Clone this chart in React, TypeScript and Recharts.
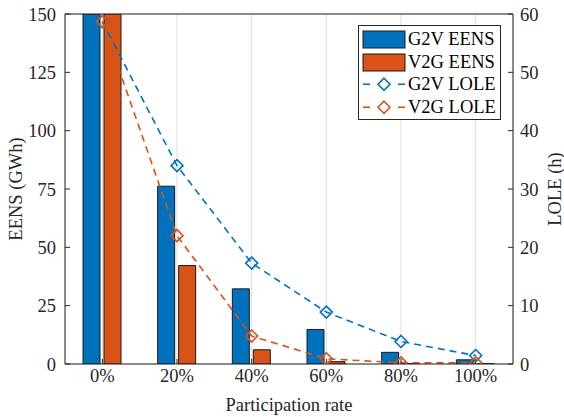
import {
  ComposedChart,
  Bar,
  Line,
  XAxis,
  YAxis,
  CartesianGrid,
  Legend,
  Label,
  ReferenceLine,
} from "recharts";

const rates = ["0%", "20%", "40%", "60%", "80%", "100%"];
const g2vEens = [150, 76.2, 32.2, 14.8, 5.0, 1.8];
const v2gEens = [150, 42.2, 6.1, 1.0, 0.2, 0.15];
const g2vLole = [58.7, 34.0, 17.3, 8.9, 3.86, 1.45];
const v2gLole = [58.7, 22.0, 4.8, 0.9, 0.2, 0.2];
const eensTicks = [0, 25, 50, 75, 100, 125, 150];
const loleTicks = [0, 10, 20, 30, 40, 50, 60];

const BLUE = "#0072BD";
const ORANGE = "#D95319";
const INK = "#262626";
const FONT = "Liberation Serif, Times New Roman, serif";
const FS = 18.5;

const data = rates.map((rate, i) => ({
  rate,
  g2vEens: g2vEens[i],
  v2gEens: v2gEens[i],
  g2vLole: g2vLole[i],
  v2gLole: v2gLole[i],
}));

function diamond(color: string) {
  return (p: any) => {
    const { cx, cy, index } = p;
    if (cx == null || cy == null) return <g key={index} />;
    const r = 6;
    return (
      <polygon
        key={index}
        points={`${cx},${cy - r} ${cx + r},${cy} ${cx},${cy + r} ${cx - r},${cy}`}
        fill="none"
        stroke={color}
        strokeWidth={1.6}
      />
    );
  };
}

function LegendBox() {
  const rowH = 22.5;
  const patch = (color: string) => (
    <svg width={44} height={rowH} style={{ display: "block" }}>
      <rect x={1} y={3} width={42} height={17} fill={color} stroke="#1a1a1a" strokeWidth={1} />
    </svg>
  );
  const lineSym = (color: string) => (
    <svg width={44} height={rowH} style={{ display: "block" }}>
      <line x1={1} y1={rowH / 2} x2={8} y2={rowH / 2} stroke={color} strokeWidth={1.6} />
      <line x1={36} y1={rowH / 2} x2={43} y2={rowH / 2} stroke={color} strokeWidth={1.6} />
      <polygon
        points={`22,${rowH / 2 - 6} 28,${rowH / 2} 22,${rowH / 2 + 6} 16,${rowH / 2}`}
        fill="none"
        stroke={color}
        strokeWidth={1.6}
      />
    </svg>
  );
  const rows = [
    { sym: patch(BLUE), text: "G2V EENS" },
    { sym: patch(ORANGE), text: "V2G EENS" },
    { sym: lineSym(BLUE), text: "G2V LOLE" },
    { sym: lineSym(ORANGE), text: "V2G LOLE" },
  ];
  return (
    <div
      style={{
        width: 143,
        boxSizing: "border-box",
        border: `1px solid ${INK}`,
        background: "#fff",
        padding: "2px 0 1px 3px",
        fontFamily: FONT,
        fontSize: FS,
        color: "#000",
      }}
    >
      {rows.map((r) => (
        <div key={r.text} style={{ display: "flex", alignItems: "center", height: rowH }}>
          {r.sym}
          <span style={{ marginLeft: 2, lineHeight: `${rowH}px` }}>{r.text}</span>
        </div>
      ))}
    </div>
  );
}

// axis title drawn rotated about its own centre
function sideTitle(text: string, x: number) {
  return (p: any) => {
    const vb = p.viewBox;
    const y = vb.y + vb.height / 2;
    return (
      <text
        x={x}
        y={y}
        transform={`rotate(-90 ${x} ${y})`}
        textAnchor="middle"
        dominantBaseline="central"
        fill={INK}
        fontSize={FS}
        fontFamily={FONT}
      >
        {text}
      </text>
    );
  };
}

export default function App() {
  const tickStyle = { fill: INK, fontSize: FS, fontFamily: FONT };
  return (
    <div style={{ position: "absolute", left: 0, top: 0, width: 564, height: 417, background: "#fff" }}>
      <ComposedChart
        width={564}
        height={417}
        data={data}
        margin={{ top: 14, right: 0, left: 0, bottom: 23 }}
      >
        <CartesianGrid stroke="#dedede" strokeWidth={1} />
        <XAxis
          dataKey="rate"
          height={30}
          tick={tickStyle}
          tickSize={-5}
          tickMargin={10}
          tickLine={{ stroke: INK }}
          axisLine={{ stroke: INK }}
        >
          <Label
            content={(p: any) => {
              const vb = p.viewBox;
              return (
                <text
                  x={vb.x + vb.width / 2}
                  y={vb.y + 47}
                  textAnchor="middle"
                  fill={INK}
                  fontSize={FS}
                  fontFamily={FONT}
                >
                  Participation rate
                </text>
              );
            }}
          />
        </XAxis>
        {/* box top edge with inward category ticks */}
        <XAxis
          xAxisId="top"
          dataKey="rate"
          orientation="top"
          height={0}
          tick={false}
          tickSize={-5}
          tickLine={{ stroke: INK }}
          axisLine={{ stroke: INK }}
        />
        <YAxis
          yAxisId="left"
          width={65}
          domain={[0, 150]}
          ticks={eensTicks}
          allowDataOverflow
          tick={tickStyle}
          tickSize={-5}
          tickMargin={14}
          tickLine={{ stroke: INK }}
          axisLine={{ stroke: INK }}
        >
          <Label content={sideTitle("EENS (GWh)", 16)} />
        </YAxis>
        <YAxis
          yAxisId="right"
          orientation="right"
          width={51}
          domain={[0, 60]}
          ticks={loleTicks}
          allowDataOverflow
          tick={{ ...tickStyle, textAnchor: "start" }}
          tickSize={-5}
          tickMargin={12}
          tickLine={{ stroke: INK }}
          axisLine={{ stroke: INK }}
        >
          <Label content={sideTitle("LOLE (h)", 555)} />
        </YAxis>
        <ReferenceLine yAxisId="left" y={150} stroke={INK} />
        <Bar
          yAxisId="left"
          dataKey="g2vEens"
          name="G2V EENS"
          fill={BLUE}
          stroke="#1a1a1a"
          strokeWidth={1}
          barSize={17}
          isAnimationActive={false}
        />
        <Bar
          yAxisId="left"
          dataKey="v2gEens"
          name="V2G EENS"
          fill={ORANGE}
          stroke="#1a1a1a"
          strokeWidth={1}
          barSize={17}
          isAnimationActive={false}
        />
        <Line
          yAxisId="right"
          type="linear"
          dataKey="g2vLole"
          name="G2V LOLE"
          stroke={BLUE}
          strokeWidth={1.6}
          strokeDasharray="7 5"
          dot={diamond(BLUE)}
          activeDot={false}
          isAnimationActive={false}
        />
        <Line
          yAxisId="right"
          type="linear"
          dataKey="v2gLole"
          name="V2G LOLE"
          stroke={ORANGE}
          strokeWidth={1.6}
          strokeDasharray="7 5"
          dot={diamond(ORANGE)}
          activeDot={false}
          isAnimationActive={false}
        />
        <Legend
          layout="vertical"
          align="center"
          verticalAlign="middle"
          content={() => <LegendBox />}
          wrapperStyle={{ position: "absolute", left: 358, top: 25, width: 145 }}
        />
      </ComposedChart>
    </div>
  );
}
